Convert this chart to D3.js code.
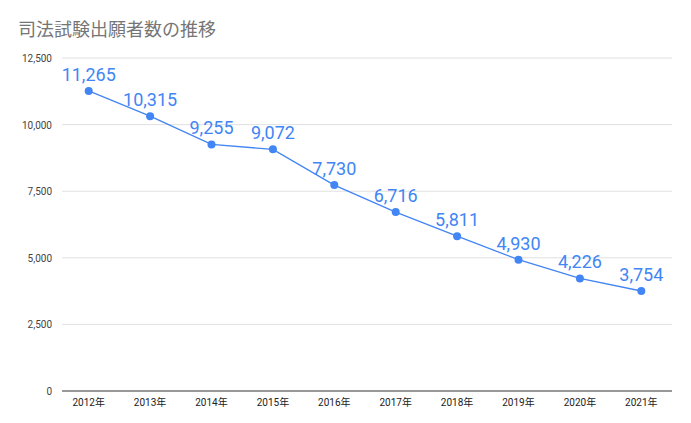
<!DOCTYPE html>
<html><head><meta charset="utf-8">
<script src="https://cdn.jsdelivr.net/npm/d3@7"></script>
<style>body{margin:0;background:#fff}</style></head>
<body><svg id="c" width="691" height="423"></svg>
<script>
const categories=["2012年","2013年","2014年","2015年","2016年","2017年","2018年","2019年","2020年","2021年"];
const values=[11265,10315,9255,9072,7730,6716,5811,4930,4226,3754];
const yTicks=[0,2500,5000,7500,10000,12500];
const title="司法試験出願者数の推移";
const svg=d3.select("#c");
const font="Roboto, 'Noto Sans CJK JP', sans-serif";
const x=d3.scaleBand().domain(categories).range([58,672]);
const y=d3.scaleLinear().domain([0,12500]).range([391,58]);
svg.append("text").attr("x",18).attr("y",36).text(title).attr("font-family",font).attr("font-size",18).attr("fill","#757575");
svg.selectAll(".g").data(yTicks).join("line").attr("x1",62).attr("x2",672).attr("y1",d=>y(d)).attr("y2",d=>y(d)).attr("stroke",d=>d===0?"#333":"#e0e0e0").attr("stroke-width",1);
svg.selectAll(".yl").data(yTicks).join("text").attr("x",52).attr("y",d=>y(d)+4).attr("text-anchor","end").text(d=>d3.format(",")(d)).attr("font-family",font).attr("font-size",10).attr("fill","#444");
svg.selectAll(".xl").data(categories).join("text").attr("x",d=>x(d)+x.bandwidth()/2).attr("y",406).attr("text-anchor","middle").text(d=>d).attr("font-family",font).attr("font-size",10).attr("fill","#222");
const cx=(d,i)=>x(categories[i])+x.bandwidth()/2;
svg.append("path").datum(values).attr("fill","none").attr("stroke","#4285f4").attr("stroke-width",1.3)
 .attr("d",d3.line().x((d,i)=>cx(d,i)).y(d=>y(d)));
svg.selectAll(".pt").data(values).join("circle").attr("cx",cx).attr("cy",d=>y(d)).attr("r",4).attr("fill","#4285f4");
svg.selectAll(".vl").data(values).join("text").attr("x",cx).attr("y",d=>y(d)-10).attr("text-anchor","middle").text(d=>d3.format(",")(d)).attr("font-family",font).attr("font-size",18).attr("fill","#4285f4");
</script></body></html>
